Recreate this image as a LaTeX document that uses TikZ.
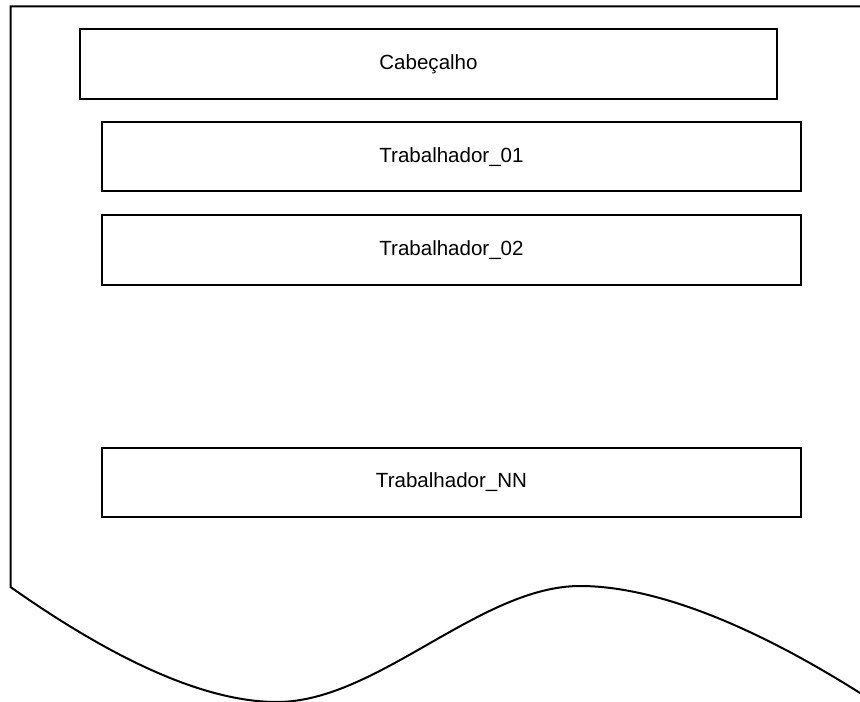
\documentclass[tikz,border=0pt]{standalone}
\usepackage{fontspec}
\setmainfont{Liberation Sans}
\begin{document}
\begin{tikzpicture}[x=0.75pt,y=-0.75pt,
  outline/.style={draw=black,line width=1.5pt,line join=miter},
  box/.style={draw=black,line width=1.5pt,rectangle,inner sep=0pt,
    font=\fontsize{15.4pt}{18pt}\selectfont},
]
\useasboundingbox (0,0) rectangle (860,702);
% document outline
\draw[outline] (870,6.5) -- (10.5,6.5) -- (10.5,587)
  .. controls (119.3,663.7) and (208.3,702) .. (277,702)
  .. controls (377,702) and (480,586) .. (580,586)
  .. controls (652,586) and (748,622.3) .. (860,693) -- (875,703);
% boxes
\node[box,minimum width=697*0.75pt,minimum height=70*0.75pt] (cab) at (428.5,64.5) {\raisebox{-1.2pt}{Cabeçalho}};
\node[box,minimum width=699*0.75pt,minimum height=69*0.75pt] (t01) at (451.5,157) {\raisebox{-1.2pt}{Trabalhador\_01}};
\node[box,minimum width=699*0.75pt,minimum height=70*0.75pt] (t02) at (451.5,250) {\raisebox{-0.5pt}{Trabalhador\_02}};
\node[box,minimum width=699*0.75pt,minimum height=69*0.75pt] (tnn) at (451.5,482.5) {\raisebox{-0.5pt}{Trabalhador\_NN}};
\end{tikzpicture}
\end{document}
